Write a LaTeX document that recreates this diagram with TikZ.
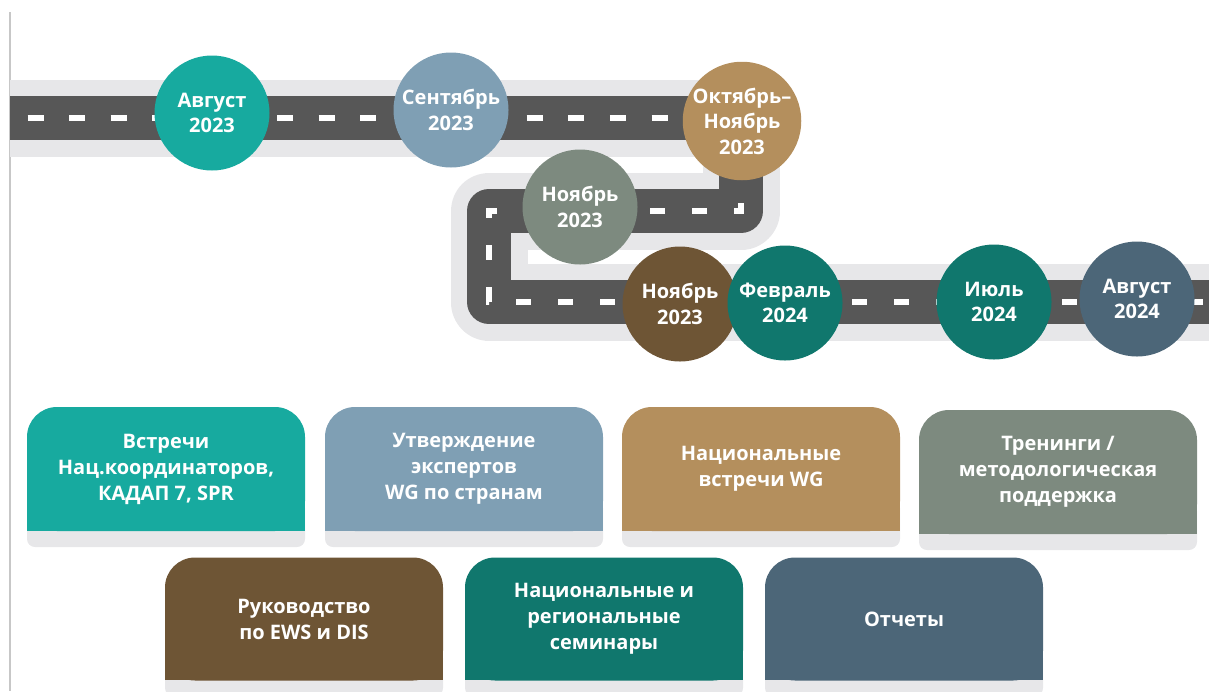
\documentclass[tikz,border=0pt]{standalone}
\usepackage{fontspec}
\setmainfont{Open Sans}
\newfontfamily\monthfont{Open Sans}
\definecolor{roadgrey}{HTML}{575757}
\definecolor{roadlight}{HTML}{E7E7E9}
\definecolor{augteal}{HTML}{17AA9F}
\definecolor{sepblue}{HTML}{7F9FB4}
\definecolor{octtan}{HTML}{B48F5D}
\definecolor{novsage}{HTML}{7D8A7F}
\definecolor{novbrown}{HTML}{6E5535}
\definecolor{febgreen}{HTML}{10776D}
\definecolor{augslate}{HTML}{4C6678}

\begin{document}
\begin{tikzpicture}[x=1pt, y=-1pt,
    month/.style={circle, minimum size=115pt, inner sep=0pt, text=white, align=center,
      font=\monthfont\bfseries\fontsize{20}{25.5}\selectfont},
    task/.style={minimum width=278pt, minimum height=124pt, rounded corners=30pt, text=white,
      align=center, font=\bfseries\fontsize{20}{26}\selectfont}]
    \useasboundingbox (0,0) rectangle (1209,691);
    \draw[black!22, line width=1.5pt] (10,12) -- (10,691);
    % road
    \coordinate (r0) at (10,118);
    \coordinate (r1) at (741,118);
    \coordinate (r2) at (741,211);
    \coordinate (r3) at (489,211);
    \coordinate (r4) at (489,302);
    \coordinate (r5) at (1209,302);
    \draw[roadlight, line width=77pt, line join=round] (r0) -- (r1) -- (r2) -- (r3) -- (r4) -- (r5);
    \draw[roadgrey, line width=44pt, line join=round] (r0) -- (r1) -- (r2) -- (r3) -- (r4) -- (r5);
    \draw[white, line width=6pt, dash pattern=on 16pt off 25.6pt, dash phase=24.1pt] (r0) -- (r1);
    \draw[white, line width=6pt, dash pattern=on 15pt off 27pt, dash phase=41pt] (r1) -- (r2) -- (r3) -- (r4) -- (r5);
    % months
    \node[month, fill=augteal] (aug23) at (212,113) {Август\\2023};
    \node[month, fill=sepblue] (sep23) at (451,110) {Сентябрь\\2023};
    \node[month, fill=octtan] (octnov23) at (742,121) {Октябрь–\\Ноябрь\\2023};
    \node[month, fill=novsage] (nov23) at (580,207) {Ноябрь\\2023};
    \node[month, fill=novbrown] (nov23b) at (680,304) {Ноябрь\\2023};
    \node[month, fill=febgreen] (feb24) at (785,303) {Февраль\\2024};
    \node[month, fill=febgreen] (jul24) at (994,302) {Июль\\2024};
    \node[month, fill=augslate] (aug24) at (1137,299) {Август\\2024};
    % tasks, first row
    \fill[roadlight, rounded corners=8pt] (27,500) rectangle (305,547);
    \fill[augteal] (27,480) rectangle (305,531);
    \node[task, fill=augteal] (meetings) at (166,469) {Встречи\\Нац.координаторов,\\КАДАП 7, SPR};
    \fill[roadlight, rounded corners=8pt] (325,500) rectangle (603,547);
    \fill[sepblue] (325,480) rectangle (603,531);
    \node[task, fill=sepblue] (experts) at (464,469) {Утверждение\\экспертов\\WG по странам};
    \fill[roadlight, rounded corners=8pt] (622,500) rectangle (900,547);
    \fill[octtan] (622,480) rectangle (900,531);
    \node[task, fill=octtan] (wgmeet) at (761,469) {Национальные\\встречи WG};
    \fill[roadlight, rounded corners=8pt] (919,503) rectangle (1197,550);
    \fill[novsage] (919,483) rectangle (1197,534);
    \node[task, fill=novsage] (training) at (1058,472) {Тренинги /\\методологическая\\поддержка};
    % tasks, second row
    \fill[roadlight, rounded corners=8pt] (165,650) rectangle (443,696);
    \fill[novbrown] (165,630) rectangle (443,680);
    \node[task, fill=novbrown, minimum height=123pt] (guide) at (304,619) {Руководство\\по EWS и DIS};
    \fill[roadlight, rounded corners=8pt] (465,650) rectangle (743,696);
    \fill[febgreen] (465,630) rectangle (743,680);
    \node[task, fill=febgreen, minimum height=123pt] (seminars) at (604,619) {Национальные и\\региональные\\семинары};
    \fill[roadlight, rounded corners=8pt] (765,650) rectangle (1043,696);
    \fill[augslate] (765,630) rectangle (1043,680);
    \node[task, fill=augslate, minimum height=123pt] (reports) at (904,619) {Отчеты};
  \end{tikzpicture}
\end{document}
